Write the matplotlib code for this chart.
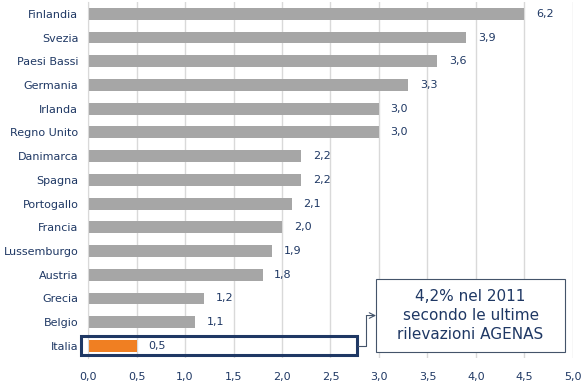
import matplotlib.pyplot as plt
from matplotlib.patches import Rectangle

countries = ["Finlandia", "Svezia", "Paesi Bassi", "Germania", "Irlanda",
             "Regno Unito", "Danimarca", "Spagna", "Portogallo", "Francia",
             "Lussemburgo", "Austria", "Grecia", "Belgio", "Italia"]
values = [6.2, 3.9, 3.6, 3.3, 3.0, 3.0, 2.2, 2.2, 2.1, 2.0, 1.9, 1.8, 1.2, 1.1, 0.5]
xticks = [0.0, 0.5, 1.0, 1.5, 2.0, 2.5, 3.0, 3.5, 4.0, 4.5, 5.0]

navy = "#1f3864"
grey = "#a6a6a6"
orange = "#f07f22"
boxcol = "#44546a"

fig = plt.figure(figsize=(5.87, 3.91), dpi=100)
ax = fig.add_axes([0.150, 0.085, 0.826, 0.91])

# the original cuts the longest bar at 4.5 (axis break)
cap = 4.5
y = list(range(len(countries)))
lengths = [min(v, cap) for v in values]
colors = [orange if c == "Italia" else grey for c in countries]
ax.barh(y, lengths, height=0.5, color=colors, zorder=2)

for yi, ln, v in zip(y, lengths, values):
    ax.text(ln + 0.12, yi, f"{v:.1f}".replace(".", ","), va="center", ha="left",
            fontsize=8, color=navy)

ax.set_ylim(len(countries) - 0.5, -0.5)
ax.set_xlim(0, 5.0)
ax.set_yticks(y)
ax.set_yticklabels(countries, fontsize=8, color=navy)
ax.set_xticks(xticks)
ax.set_xticklabels([f"{t:.1f}".replace(".", ",") for t in xticks], fontsize=8, color=navy)
ax.tick_params(axis="y", length=0, pad=7)
ax.tick_params(axis="x", length=0, pad=10)
ax.xaxis.grid(True, color="#d9d9d9", linewidth=1, zorder=0)
for s in ["top", "right", "bottom"]:
    ax.spines[s].set_visible(False)
ax.spines["left"].set_color("#d9d9d9")

# highlight box around Italia
it = countries.index("Italia")
ax.add_patch(Rectangle((-0.072, it - 0.4), 2.85, 0.8, fill=False, edgecolor=navy,
                       linewidth=2.2, clip_on=False, zorder=3))

# callout box with elbow connector
ax.add_patch(Rectangle((2.97, it - 2.82), 1.95, 3.08, fc="white", ec=boxcol,
                       lw=0.8, zorder=4, clip_on=False))
ax.text(3.945, it - 1.28, "4,2% nel 2011\nsecondo le ultime\nrilevazioni AGENAS",
        ha="center", va="center", fontsize=11, color=navy, linespacing=1.3, zorder=5)
ax.plot([2.78, 2.87, 2.87], [it, it, it - 1.28], color=boxcol, lw=0.8, zorder=3,
        clip_on=False)
ax.annotate("", xy=(2.97, it - 1.28), xytext=(2.87, it - 1.28),
            arrowprops=dict(arrowstyle="->,head_length=0.4,head_width=0.2",
                            color=boxcol, lw=0.8, shrinkA=0, shrinkB=0), zorder=3)

fig.savefig("out.png", dpi=100)
